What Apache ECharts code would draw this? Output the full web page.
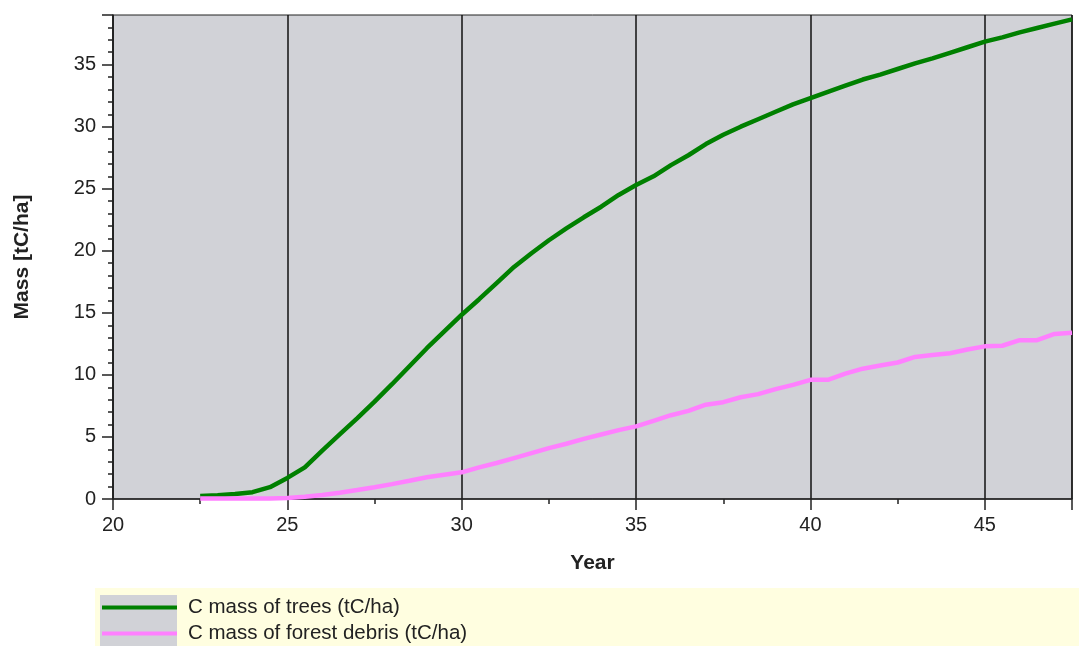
<!DOCTYPE html>
<html>
<head>
<meta charset="utf-8">
<script src="https://cdn.jsdelivr.net/npm/echarts@6/dist/echarts.min.js"></script>
<style>
html,body{margin:0;padding:0;background:#fff;}
#chart{width:1079px;height:646px;}
</style>
</head>
<body>
<div id="chart"></div>
<script>
const years = [22.5,23,23.5,24,24.5,25,25.5,26,26.5,27,27.5,28,28.5,29,29.5,30,30.5,31,31.5,32,32.5,33,33.5,34,34.5,35,35.5,36,36.5,37,37.5,38,38.5,39,39.5,40,40.5,41,41.5,42,42.5,43,43.5,44,44.5,45,45.5,46,46.5,47,47.5];
const treesMass = [0.25,0.3,0.4,0.55,0.95,1.7,2.55,3.9,5.2,6.5,7.85,9.25,10.7,12.15,13.5,14.85,16.1,17.4,18.7,19.8,20.85,21.8,22.7,23.55,24.5,25.3,26.0,26.9,27.7,28.6,29.35,30.0,30.6,31.2,31.8,32.3,32.8,33.3,33.8,34.2,34.65,35.1,35.5,35.95,36.4,36.85,37.2,37.6,37.95,38.3,38.65];
const debrisMass = [0.05,0.05,0.05,0.05,0.05,0.08,0.18,0.33,0.5,0.72,0.95,1.2,1.47,1.75,1.95,2.15,2.55,2.9,3.3,3.7,4.1,4.45,4.85,5.2,5.55,5.85,6.3,6.75,7.1,7.6,7.8,8.2,8.45,8.85,9.2,9.6,9.6,10.1,10.5,10.75,11.0,11.45,11.6,11.75,12.05,12.3,12.35,12.8,12.8,13.3,13.4];
const seriesNames = ['C mass of trees (tC/ha)','C mass of forest debris (tC/ha)'];
const xTitle = 'Year';
const yTitle = 'Mass [tC/ha]';

const font = '"Liberation Sans", Arial, sans-serif';
const legendText = {fontFamily:font,fontSize:20.5,color:'#222',padding:[0,0,0,6]};
const chart = echarts.init(document.getElementById('chart'), null, {renderer:'canvas'});
chart.setOption({
  animation:false,
  backgroundColor:'#ffffff',
  graphic:[
    {type:'rect', z:-10, shape:{x:95,y:588,width:984,height:58}, style:{fill:'#fffee0'}},
    {type:'rect', z:-9, shape:{x:100,y:595,width:77,height:51}, style:{fill:'#d1d2d7'}}
  ],
  grid:{left:113,right:7,top:15,bottom:147,show:true,backgroundColor:'#d1d2d7',borderColor:'#222',borderWidth:1},
  legend:[
    {orient:'vertical', left:102, top:597, padding:0, itemWidth:75, itemHeight:4, icon:'rect',
     textStyle:legendText, data:[seriesNames[0]]},
    {orient:'vertical', left:102, top:623, padding:0, itemWidth:75, itemHeight:4, icon:'rect',
     textStyle:legendText, data:[seriesNames[1]]}
  ],
  xAxis:{
    type:'value', min:20, max:47.5, interval:5,
    name:xTitle, nameLocation:'middle', nameGap:54,
    nameTextStyle:{fontFamily:font,fontSize:21,fontWeight:'bold',color:'#222'},
    axisLine:{show:true,onZero:false,lineStyle:{color:'#222',width:1.5}},
    axisTick:{show:true,length:11,lineStyle:{color:'#222',width:1.5}},
    minorTick:{show:true,splitNumber:2,length:5,lineStyle:{color:'#222',width:1.5}},
    axisLabel:{fontFamily:font,fontSize:20,color:'#222',margin:16,showMaxLabel:false,
      formatter:function(v){return (v%5===0)?String(v):'';}},
    splitLine:{show:true,lineStyle:{color:'#111',width:1.5}}
  },
  yAxis:{
    type:'value', min:0, max:39, interval:5,
    name:yTitle, nameLocation:'middle', nameGap:80, nameRotate:90,
    nameTextStyle:{fontFamily:font,fontSize:21,fontWeight:'bold',color:'#222'},
    axisLine:{show:true,lineStyle:{color:'#222',width:1.5}},
    axisTick:{show:true,length:11,lineStyle:{color:'#222',width:1.5}},
    minorTick:{show:true,splitNumber:5,length:5,lineStyle:{color:'#222',width:1.5}},
    axisLabel:{fontFamily:font,fontSize:20,color:'#222',margin:17,showMaxLabel:false,
      formatter:function(v){return (v%5===0)?String(v):'';}},
    splitLine:{show:false}
  },
  series:[
    {name:seriesNames[0], type:'line', showSymbol:false, symbol:'none',
     lineStyle:{color:'#008000',width:4.5}, itemStyle:{color:'#008000'},
     data:years.map((y,i)=>[y,treesMass[i]])},
    {name:seriesNames[1], type:'line', showSymbol:false, symbol:'none',
     lineStyle:{color:'#ff80ff',width:4.5}, itemStyle:{color:'#ff80ff'},
     data:years.map((y,i)=>[y,debrisMass[i]])}
  ]
});
</script>
</body>
</html>
